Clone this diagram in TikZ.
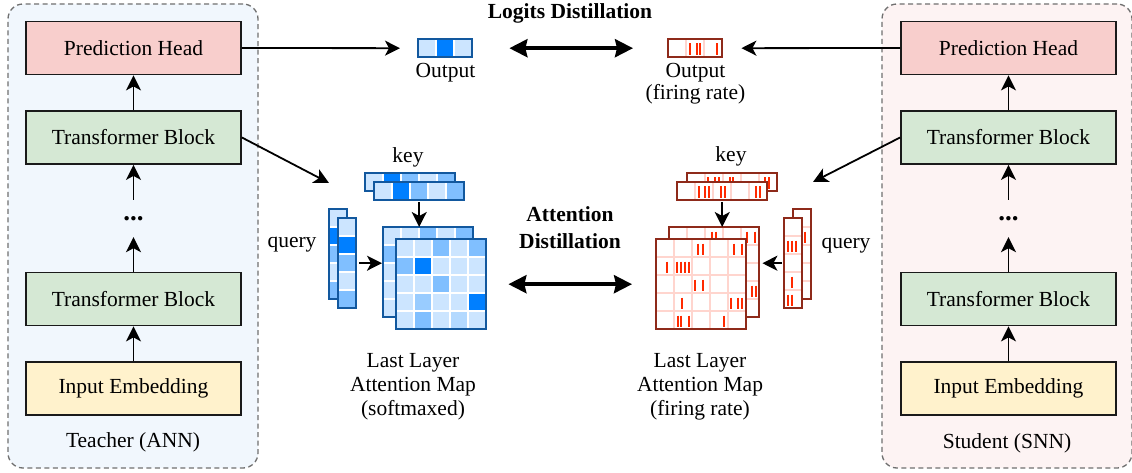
\documentclass[tikz,border=0pt]{standalone}
\usepackage{fontspec}
\setmainfont{Liberation Serif}
\usetikzlibrary{arrows.meta}

\definecolor{bL}{HTML}{CCE5FF}
\definecolor{bM}{HTML}{80BFFF}
\definecolor{bN}{HTML}{99CCFF}
\definecolor{bP}{HTML}{B3D9FF}
\definecolor{bD}{HTML}{007FFF}
\definecolor{bB}{HTML}{12589E}
\definecolor{rB}{HTML}{8E2A1A}
\definecolor{rG}{HTML}{FFD5CE}
\definecolor{rS}{HTML}{FF2A00}
\definecolor{phc}{HTML}{F8CECC}
\definecolor{tbc}{HTML}{D5E8D4}
\definecolor{iec}{HTML}{FFF2CC}
\definecolor{tcol}{HTML}{F1F7FD}
\definecolor{scol}{HTML}{FDF3F3}
\definecolor{edge}{HTML}{1A1A1A}
\definecolor{dashc}{HTML}{707070}

% blue heat grid: origin, columns, rows, colour rows, node name
\newcommand{\heatgrid}[5]{%
  \begin{scope}[shift={#1}]
    \foreach \rw [count=\r from 0] in {#4}{%
      \foreach \cc [count=\k from 0] in \rw {\fill[\cc] (\k*18,\r*18) rectangle ++(18,18);}}
    \foreach \k in {0,...,#2} {\draw[white,line width=1.5pt] (\k*18,0) -- (\k*18,#3*18);}
    \foreach \r in {0,...,#3} {\draw[white,line width=1.5pt] (0,\r*18) -- (#2*18,\r*18);}
    \draw[bB,line width=1.6pt] (0,0) rectangle (#2*18,#3*18);
    \node[inner sep=0,minimum width=#2*18,minimum height=#3*18,anchor=north west] (#5) at (0,0) {};
  \end{scope}}

% spike raster grid: origin, columns, rows, spikes x/row, node name
\newcommand{\spikegrid}[5]{%
  \begin{scope}[shift={#1}]
    \fill[white] (0,0) rectangle (#2*18,#3*18);
    \foreach \k in {0,...,#2} {\draw[rG,line width=1.5pt] (\k*18,0) -- (\k*18,#3*18);}
    \foreach \r in {0,...,#3} {\draw[rG,line width=1.5pt] (0,\r*18) -- (#2*18,\r*18);}
    \foreach \sx/\sr in {#4} {\draw[rS,line width=2pt] (\sx,\sr*18+4.5) -- (\sx,\sr*18+16);}
    \draw[rB,line width=1.6pt] (0,0) rectangle (#2*18,#3*18);
    \node[inner sep=0,minimum width=#2*18,minimum height=#3*18,anchor=north west] (#5) at (0,0) {};
  \end{scope}}

\begin{document}
\begin{tikzpicture}[x=1pt,y=-1pt,
  lbl/.style={font=\fontsize{21.5}{24}\selectfont,align=center,inner sep=0},
  hdr/.style={font=\fontsize{21.5}{27}\selectfont\bfseries,align=center,inner sep=0},
  blk/.style={draw=edge,line width=1.8pt,minimum width=215,minimum height=53,inner sep=0,
              font=\fontsize{21.5}{24}\selectfont},
  cont/.style={draw=dashc,line width=1.3pt,dash pattern=on 5pt off 3.5pt,rounded corners=15pt,
               minimum width=250,minimum height=464,inner sep=0},
  arr/.style={-{Stealth[length=15pt,width=15pt,inset=4pt]},line width=1.8pt,black},
  darr/.style={{Stealth[length=18pt,width=18pt,inset=2pt]}-{Stealth[length=18pt,width=18pt,inset=2pt]},
               line width=3.5pt,black},
  dots/.style={inner sep=0,minimum height=37,font=\fontsize{27}{27}\selectfont\bfseries}]

\useasboundingbox (0,0) rectangle (1132,473);
\fill[white] (0,0) rectangle (1132,473);

% teacher column
\node[cont,fill=tcol] (teacher) at (133,236) {};
\node[blk,fill=phc] (phL) at (133.5,48) {Prediction Head};
\node[blk,fill=tbc] (tb1L) at (133.5,137.5) {Transformer Block};
\node[dots] (dotL) at (133.5,218.5) {...};
\node[blk,fill=tbc] (tb2L) at (133.5,299) {Transformer Block};
\node[blk,fill=iec] (ieL) at (133.5,388.5) {Input Embedding};
\node[lbl] (tlab) at (133,442) {Teacher (ANN)};
\draw[arr] (ieL.north) -- (tb2L.south);
\draw[arr] (tb2L.north) -- (dotL.south);
\draw[arr] (dotL.north) -- (tb1L.south);
\draw[arr] (tb1L.north) -- (phL.south);

% student column
\node[cont,fill=scol] (student) at (1007,236) {};
\node[blk,fill=phc] (phR) at (1008.5,48) {Prediction Head};
\node[blk,fill=tbc] (tb1R) at (1008.5,137.5) {Transformer Block};
\node[dots] (dotR) at (1008.5,218.5) {...};
\node[blk,fill=tbc] (tb2R) at (1008.5,299) {Transformer Block};
\node[blk,fill=iec] (ieR) at (1008.5,388.5) {Input Embedding};
\node[lbl] (slab) at (1007,443) {Student (SNN)};
\draw[arr] (ieR.north) -- (tb2R.south);
\draw[arr] (tb2R.north) -- (dotR.south);
\draw[arr] (dotR.north) -- (tb1R.south);
\draw[arr] (tb1R.north) -- (phR.south);

% logits distillation
\node[hdr] (logit) at (570,13) {Logits Distillation};
\heatgrid{(418,39)}{3}{1}{{bL,bD,bL}}{outB}
\spikegrid{(668,39)}{3}{1}{22/0,29/0,32/0,49/0}{outR}
\node[lbl,anchor=north] (outBl) at (445.5,63) {Output};
\node[lbl,anchor=north,font=\fontsize{21.5}{22}\selectfont] (outRl) at (695.5,63) {Output\\(firing rate)};
\draw[arr,shorten >=18pt] (phL.east) -- (outB.west);
\draw[arr,shorten >=19pt] (phR.west) -- (outR.east);
\draw[darr,shorten <=37pt,shorten >=35pt] (outB.east) -- (outR.west);

% teacher attention map
\heatgrid{(365,173)}{5}{1}{{bL,bD,bM,bL,bM}}{kbB}
\heatgrid{(374,182)}{5}{1}{{bL,bD,bM,bL,bM}}{kfB}
\heatgrid{(329,209)}{1}{5}{{bL},{bD},{bM},{bL},{bM}}{qbB}
\heatgrid{(338,218)}{1}{5}{{bL},{bD},{bM},{bL},{bM}}{qfB}
\heatgrid{(383,227)}{5}{5}{{bL,bL,bM,bL,bM},{bM,bL,bL,bL,bL},{bL,bL,bL,bL,bL},{bL,bL,bL,bL,bL},{bL,bL,bL,bL,bL}}{mbB}
\heatgrid{(396,239)}{5}{5}{{bL,bL,bM,bL,bM},{bM,bD,bL,bL,bL},{bL,bL,bM,bL,bL},{bL,bN,bL,bL,bD},{bL,bM,bL,bP,bL}}{mfB}
\node[lbl] (keyBl) at (408,157) {key};
\node[lbl] (qryBl) at (292,245) {query};
\node[lbl] (mapBl) at (413,387) {Last Layer\\Attention Map\\(softmaxed)};
\draw[arr,shorten <=2pt] (kfB.south) -- (kfB.south |- mbB.north);
\draw[arr,shorten <=3pt,shorten >=1pt] (qfB.east) -- (qfB.east -| mbB.west);
\coordinate (attInB) at (329,183);
\draw[arr] (tb1L.east) -- (attInB);

% student attention map
\spikegrid{(687,173)}{5}{1}{21/0,28/0,32/0,43/0,46/0,78/0,82/0}{kbR}
\spikegrid{(677,182)}{5}{1}{22/0,28/0,32/0,44/0,48/0,79/0,83/0}{kfR}
\spikegrid{(793,209)}{1}{5}{12/1}{qbR}
\spikegrid{(784,218)}{1}{5}{4/1,8/1,12/1,8/3,4/4,8/4}{qfR}
\spikegrid{(669,227)}{5}{5}{43/0,47/0,78/0,86/0,83/3,87/3}{mbR}
\spikegrid{(656,239)}{5}{5}{42/0,47/0,78/0,86/0,11/1,21/1,25/1,29/1,33/1,39/2,47/2,26/3,75/3,82/3,86/3,22/4,25/4,33/4,68/4}{mfR}
\node[lbl] (keyRl) at (731,156) {key};
\node[lbl] (qryRl) at (846,246) {query};
\node[lbl] (mapRl) at (700,387) {Last Layer\\Attention Map\\(firing rate)};
\draw[arr,shorten <=2pt] (kfR.south) -- (kfR.south |- mbR.north);
\draw[arr,shorten <=2pt,shorten >=3pt] (qfR.west) -- (qfR.west -| mbR.east);
\coordinate (attInR) at (813,182);
\draw[arr] (tb1R.west) -- (attInR);

% attention distillation
\node[hdr] (attn) at (570,228) {Attention\\Distillation};
\draw[darr,shorten <=22pt,shorten >=24pt] (mfB.east) -- (mfR.west);
\end{tikzpicture}
\end{document}
